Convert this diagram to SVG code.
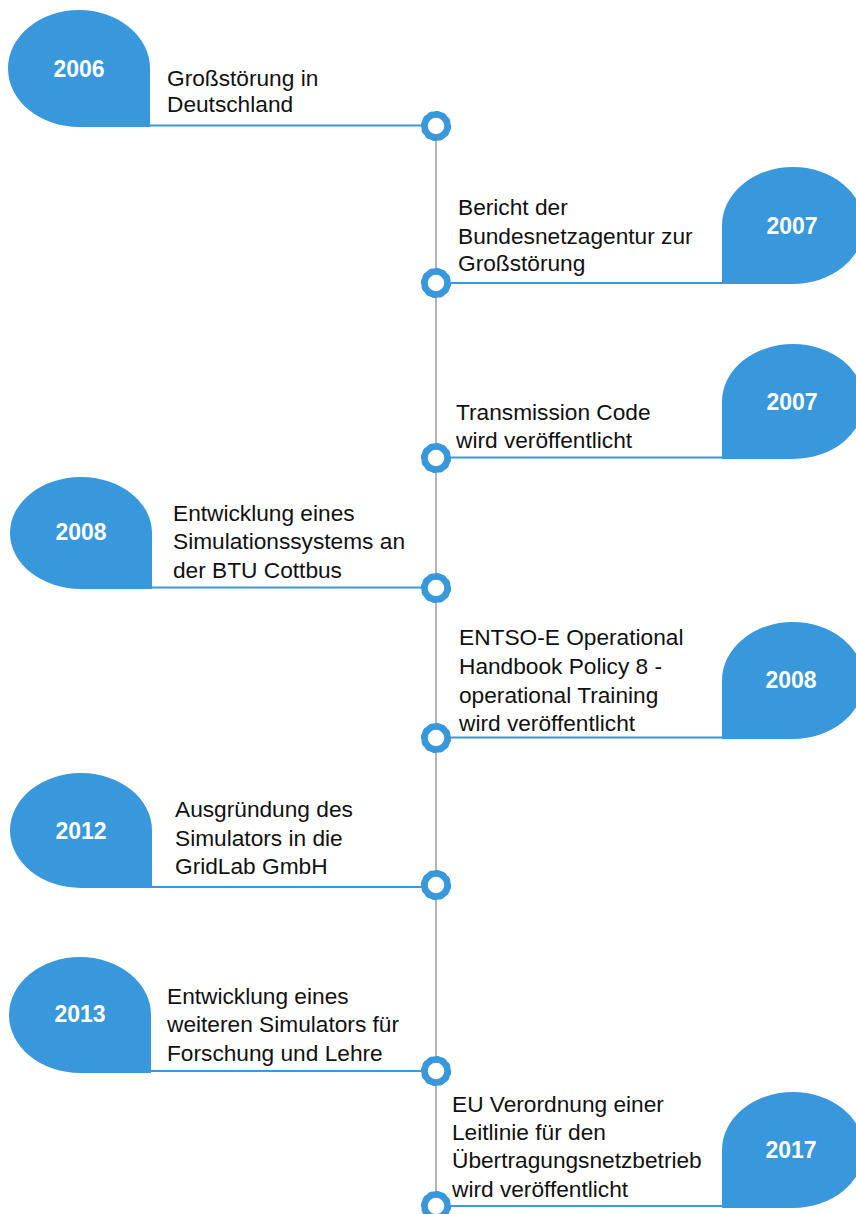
<svg xmlns="http://www.w3.org/2000/svg" xmlns:xlink="http://www.w3.org/1999/xlink" width="856" height="1214" viewBox="0 0 856 1214">
<style>
.shape{fill:#3898db;}
.year{font-family:"Liberation Sans",Arial,sans-serif;font-size:23px;font-weight:bold;fill:#ffffff;text-anchor:middle;}
.desc{font-family:"Liberation Sans",Arial,sans-serif;font-size:22.7px;fill:#111111;}
.axis{stroke:#b4b4b4;stroke-width:2;fill:none;}
.link{stroke:#3a98db;stroke-width:2;fill:none;}
.ring{fill:#ffffff;stroke:#3898db;stroke-width:6.5;}
.teeth{fill:none;stroke:#3898db;stroke-width:1.8;stroke-dasharray:4 3.3;}
</style>
<defs>
<g id="ringSym">
<circle class="ring" cx="0" cy="0" r="11.5"/>
<circle class="teeth" cx="0" cy="0" r="14.2"/>
</g>
</defs>
<g id="connectors">
<line class="axis" x1="436" y1="126" x2="436" y2="1206"/>
<line class="link" x1="150" y1="125.5" x2="436" y2="125.5"/>
<line class="link" x1="436" y1="283" x2="722" y2="283"/>
<line class="link" x1="436" y1="457.5" x2="722" y2="457.5"/>
<line class="link" x1="152" y1="587.5" x2="436" y2="587.5"/>
<line class="link" x1="436" y1="737.5" x2="722" y2="737.5"/>
<line class="link" x1="152" y1="887" x2="436" y2="887"/>
<line class="link" x1="151" y1="1071" x2="436" y2="1071"/>
<line class="link" x1="436" y1="1206" x2="722" y2="1206"/>
<use xlink:href="#ringSym" href="#ringSym" x="436" y="126"/>
<use xlink:href="#ringSym" href="#ringSym" x="436" y="283"/>
<use xlink:href="#ringSym" href="#ringSym" x="436" y="458"/>
<use xlink:href="#ringSym" href="#ringSym" x="436" y="588"/>
<use xlink:href="#ringSym" href="#ringSym" x="436" y="738"/>
<use xlink:href="#ringSym" href="#ringSym" x="436" y="885"/>
<use xlink:href="#ringSym" href="#ringSym" x="436" y="1071"/>
<use xlink:href="#ringSym" href="#ringSym" x="436" y="1206"/>
</g>
<g id="node-2006">
<path class="shape" d="M150,68.5 L150,127 L79,127 A71,58.5 0 0 1 8,68.5 A71,58.5 0 0 1 79,10 A71,58.5 0 0 1 150,68.5 Z"/>
<text class="year" x="79" y="77">2006</text>
<text class="desc" x="167" y="86">Großstörung in</text>
<text class="desc" x="167" y="112">Deutschland</text>
</g>
<g id="node-2007a">
<path class="shape" d="M722,225.5 L722,284 L793,284 A71,58.5 0 0 0 864,225.5 A71,58.5 0 0 0 793,167 A71,58.5 0 0 0 722,225.5 Z"/>
<text class="year" x="792" y="234">2007</text>
<text class="desc" x="458" y="215">Bericht der</text>
<text class="desc" x="458" y="244">Bundesnetzagentur zur</text>
<text class="desc" x="458" y="271">Großstörung</text>
</g>
<g id="node-2007b">
<path class="shape" d="M722,401.5 L722,459 L793,459 A71,57.5 0 0 0 864,401.5 A71,57.5 0 0 0 793,344 A71,57.5 0 0 0 722,401.5 Z"/>
<text class="year" x="792" y="410">2007</text>
<text class="desc" x="456" y="420">Transmission Code</text>
<text class="desc" x="456" y="448">wird veröffentlicht</text>
</g>
<g id="node-2008a">
<path class="shape" d="M152,533 L152,589 L81,589 A71,56 0 0 1 10,533 A71,56 0 0 1 81,477 A71,56 0 0 1 152,533 Z"/>
<text class="year" x="81" y="540">2008</text>
<text class="desc" x="173" y="521">Entwicklung eines</text>
<text class="desc" x="173" y="549">Simulationssystems an</text>
<text class="desc" x="173" y="578">der BTU Cottbus</text>
</g>
<g id="node-2008b">
<path class="shape" d="M722,680.5 L722,739 L793,739 A71,58.5 0 0 0 864,680.5 A71,58.5 0 0 0 793,622 A71,58.5 0 0 0 722,680.5 Z"/>
<text class="year" x="791" y="688">2008</text>
<text class="desc" x="459" y="645">ENTSO-E Operational</text>
<text class="desc" x="459" y="674">Handbook Policy 8 -</text>
<text class="desc" x="459" y="703">operational Training</text>
<text class="desc" x="459" y="731">wird veröffentlicht</text>
</g>
<g id="node-2012">
<path class="shape" d="M152,830.5 L152,888 L81,888 A71,57.5 0 0 1 10,830.5 A71,57.5 0 0 1 81,773 A71,57.5 0 0 1 152,830.5 Z"/>
<text class="year" x="81" y="839">2012</text>
<text class="desc" x="175" y="817">Ausgründung des</text>
<text class="desc" x="175" y="846">Simulators in die</text>
<text class="desc" x="175" y="874">GridLab GmbH</text>
</g>
<g id="node-2013">
<path class="shape" d="M151,1015 L151,1073 L80,1073 A71,58 0 0 1 9,1015 A71,58 0 0 1 80,957 A71,58 0 0 1 151,1015 Z"/>
<text class="year" x="80" y="1022">2013</text>
<text class="desc" x="167" y="1004">Entwicklung eines</text>
<text class="desc" x="167" y="1032">weiteren Simulators für</text>
<text class="desc" x="167" y="1061">Forschung und Lehre</text>
</g>
<g id="node-2017">
<path class="shape" d="M722,1150 L722,1208 L793,1208 A71,58 0 0 0 864,1150 A71,58 0 0 0 793,1092 A71,58 0 0 0 722,1150 Z"/>
<text class="year" x="791" y="1158">2017</text>
<text class="desc" x="452" y="1112">EU Verordnung einer</text>
<text class="desc" x="452" y="1140">Leitlinie für den</text>
<text class="desc" x="452" y="1168">Übertragungsnetzbetrieb</text>
<text class="desc" x="452" y="1197">wird veröffentlicht</text>
</g>
</svg>
